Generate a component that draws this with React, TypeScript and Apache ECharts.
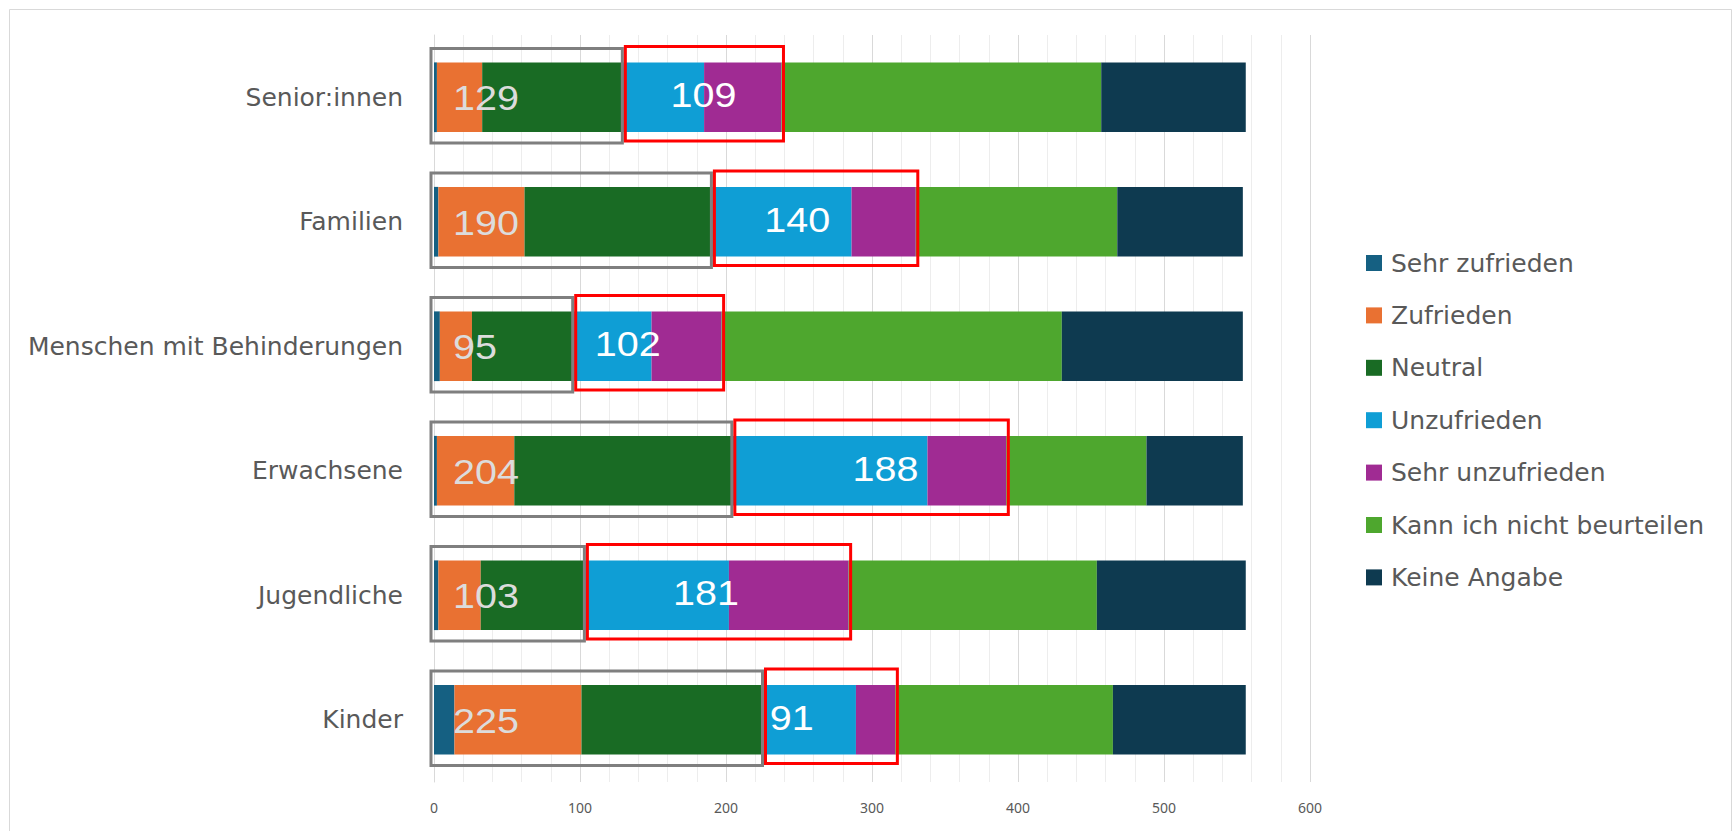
import React, { useEffect, useRef } from "react";
import * as echarts from "echarts";

const categories = [
  "Senior:innen",
  "Familien",
  "Menschen mit Behinderungen",
  "Erwachsene",
  "Jugendliche",
  "Kinder",
];
const seriesNames = [
  "Sehr zufrieden",
  "Zufrieden",
  "Neutral",
  "Unzufrieden",
  "Sehr unzufrieden",
  "Kann ich nicht beurteilen",
  "Keine Angabe",
];
const sehrZufrieden = [2, 3, 4, 2, 3, 14];
const zufrieden = [31, 59, 22, 53, 29, 87];
const neutral = [96, 128, 69, 149, 71, 124];
const unzufrieden = [56, 96, 54, 134, 99, 64];
const sehrUnzufrieden = [53, 44, 48, 54, 82, 27];
const kannNicht = [219, 138, 233, 96, 170, 149];
const keineAngabe = [99, 86, 124, 66, 102, 91];
const xTicks = [0, 100, 200, 300, 400, 500, 600];

// styling
const colors = ["#156082", "#E97132", "#196B24", "#0F9ED5", "#A02B93", "#4EA72E", "#0E3A50"];
const redLabelAnchor = [0.51, 0.42, 0.37, 0.56, 0.46, 0.22];

const allSeries = [sehrZufrieden, zufrieden, neutral, unzufrieden, sehrUnzufrieden, kannNicht, keineAngabe];
const positiveTotals = categories.map((_, i) => sehrZufrieden[i] + zufrieden[i] + neutral[i]);
const negativeTotals = categories.map((_, i) => unzufrieden[i] + sehrUnzufrieden[i]);

const labelFont = "'DejaVu Sans', 'Noto Sans', sans-serif";
const numFont = "'Liberation Sans', Arial, sans-serif";

export default function App() {
  const ref = useRef<HTMLDivElement>(null);
  useEffect(() => {
    if (!ref.current) return;
    const chart = echarts.init(ref.current, undefined, { renderer: "svg" });
    const option: any = {
      animation: false,
      backgroundColor: "#ffffff",
      graphic: [
        {
          type: "rect",
          silent: true,
          z: -10,
          shape: { x: 9.5, y: 9.5, width: 1722, height: 840 },
          style: { fill: "none", stroke: "#d9d9d9", lineWidth: 1 },
        },
      ],
      grid: { left: 434, right: 425, top: 35, bottom: 49, containLabel: false },
      legend: {
        orient: "vertical",
        left: 1366,
        top: 250,
        padding: 0,
        itemWidth: 16,
        itemHeight: 16,
        itemGap: 26.4,
        icon: "rect",
        data: seriesNames,
        selectedMode: false,
        textStyle: {
          color: "#595959",
          fontSize: 25,
          lineHeight: 26,
          fontFamily: labelFont,
          padding: [0, 0, 0, 4],
        },
      },
      xAxis: {
        type: "value",
        min: xTicks[0],
        max: xTicks[xTicks.length - 1],
        interval: xTicks[1] - xTicks[0],
        axisLine: { show: false },
        axisTick: { show: false },
        axisLabel: { color: "#595959", fontSize: 14, margin: 18, fontFamily: "'Noto Sans', sans-serif" },
        splitLine: { show: true, lineStyle: { color: "#d9d9d9", width: 1 } },
        minorTick: { show: false, splitNumber: 5 },
        minorSplitLine: { show: true, lineStyle: { color: "#ededed", width: 1 } },
      },
      yAxis: {
        type: "category",
        inverse: true,
        data: categories,
        axisLine: { show: true, lineStyle: { color: "#d9d9d9" } },
        axisTick: { show: false },
        axisLabel: { color: "#595959", fontSize: 25, margin: 31, fontFamily: labelFont },
      },
      series: [
        ...seriesNames.map((name, k) => ({
          name,
          type: "bar",
          stack: "total",
          barWidth: "56%",
          itemStyle: { color: colors[k] },
          data: allSeries[k],
        })),
        {
          type: "custom",
          name: "annotations",
          z: 10,
          clip: false,
          encode: { y: 0, x: [1, 2] },
          data: categories.map((_, i) => [i, positiveTotals[i], negativeTotals[i], redLabelAnchor[i]]),
          renderItem: (params: any, api: any) => {
            const cat = api.value(0);
            const pos = api.value(1);
            const neg = api.value(2);
            const anchor = api.value(3);
            const p0 = api.coord([0, cat]);
            const pg = api.coord([pos, cat]);
            const pr = api.coord([pos + neg, cat]);
            const band = api.size([0, 1])[1];
            const bh = band * 0.56;
            const cy = p0[1];
            return {
              type: "group",
              children: [
                {
                  type: "rect",
                  shape: { x: p0[0] - 3, y: cy - bh / 2 - 14, width: pg[0] - p0[0] + 3, height: bh + 25 },
                  style: { fill: "none", stroke: "#7f7f7f", lineWidth: 3 },
                },
                {
                  type: "rect",
                  shape: { x: pg[0] + 3, y: cy - bh / 2 - 16, width: pr[0] - pg[0] - 1, height: bh + 25 },
                  style: { fill: "none", stroke: "#ff0000", lineWidth: 3 },
                },
                {
                  type: "text",
                  x: p0[0] + 19,
                  y: cy + 1,
                  scaleX: 1.13,
                  style: {
                    x: 0,
                    y: 0,
                    text: String(pos),
                    fill: "#dcdcdc",
                    fontSize: 35,
                    fontFamily: numFont,
                    align: "left",
                    verticalAlign: "middle",
                  },
                },
                {
                  type: "text",
                  x: pg[0] + (pr[0] - pg[0]) * anchor,
                  y: cy - 2,
                  scaleX: 1.13,
                  style: {
                    x: 0,
                    y: 0,
                    text: String(neg),
                    fill: "#ffffff",
                    fontSize: 35,
                    fontFamily: numFont,
                    align: "center",
                    verticalAlign: "middle",
                  },
                },
              ],
            };
          },
        },
      ],
    };
    chart.setOption(option);
    return () => chart.dispose();
  }, []);
  return (
    <div
      ref={ref}
      style={{ position: "fixed", left: 0, top: 0, width: 1735, height: 831, background: "#fff" }}
    />
  );
}
